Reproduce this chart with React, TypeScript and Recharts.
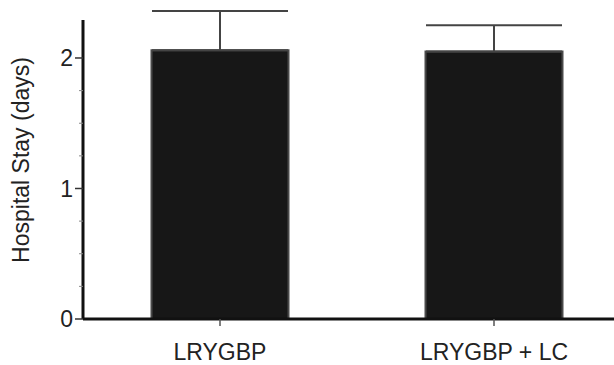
import { BarChart, Bar, XAxis, YAxis, ErrorBar, Label } from 'recharts';

const groups = ['LRYGBP', 'LRYGBP + LC'];
const meanStay = [2.06, 2.05];
const upperError = [0.3, 0.2];
const yTicks = [0, 0.25, 0.5, 0.75, 1, 1.25, 1.5, 1.75, 2];

const data = groups.map((g, i) => ({
  group: g,
  mean: meanStay[i],
  err: [0, upperError[i]],
}));

const font = '"Liberation Sans", Arial, sans-serif';

function YTick(props: any) {
  const { x, y, payload } = props;
  const major = Number.isInteger(payload.value);
  return (
    <g>
      <line
        x1={major ? x + 2 : x + 6}
        x2={x + 10}
        y1={y}
        y2={y}
        stroke={major ? '#333' : '#888'}
        strokeWidth={major ? 1.5 : 1}
      />
      {major && (
        <text x={x} y={y} dy="0.36em" textAnchor="end" fontSize={23} fill="#222" fontFamily={font}>
          {payload.value}
        </text>
      )}
    </g>
  );
}

export default function App() {
  return (
    <div style={{ width: 614, height: 365, overflow: 'hidden', background: '#fff' }}>
      <style>{'html,body{margin:0;overflow:hidden;}'}</style>
      <BarChart
        width={631}
        height={365}
        data={data}
        margin={{ top: 11, right: 0, bottom: 0, left: 0 }}
        barCategoryGap="25%"
      >
        <XAxis
          dataKey="group"
          height={46}
          tickSize={7}
          tickMargin={18}
          axisLine={{ stroke: '#111', strokeWidth: 3 }}
          tickLine={{ stroke: '#555', strokeWidth: 1.5 }}
          tick={{ fontSize: 23, fill: '#222', fontFamily: font }}
        />
        <YAxis
          width={83}
          domain={[0, 2.36]}
          ticks={yTicks}
          interval={0}
          tickSize={8}
          tickMargin={2}
          tickLine={false}
          axisLine={{ stroke: '#111', strokeWidth: 3, strokeDasharray: '0 9 1000' }}
          tick={<YTick />}
        >
          <Label
            value="Hospital Stay (days)"
            angle={-90}
            position="insideLeft"
            offset={21}
            dy={-5}
            style={{ textAnchor: 'middle', fontSize: 23, fill: '#222', fontFamily: font }}
          />
        </YAxis>
        <Bar dataKey="mean" fill="#171717" stroke="#4a4a4a" strokeWidth={2} isAnimationActive={false}>
          <ErrorBar dataKey="err" width={68} stroke="#444" strokeWidth={2} direction="y" />
        </Bar>
      </BarChart>
    </div>
  );
}
